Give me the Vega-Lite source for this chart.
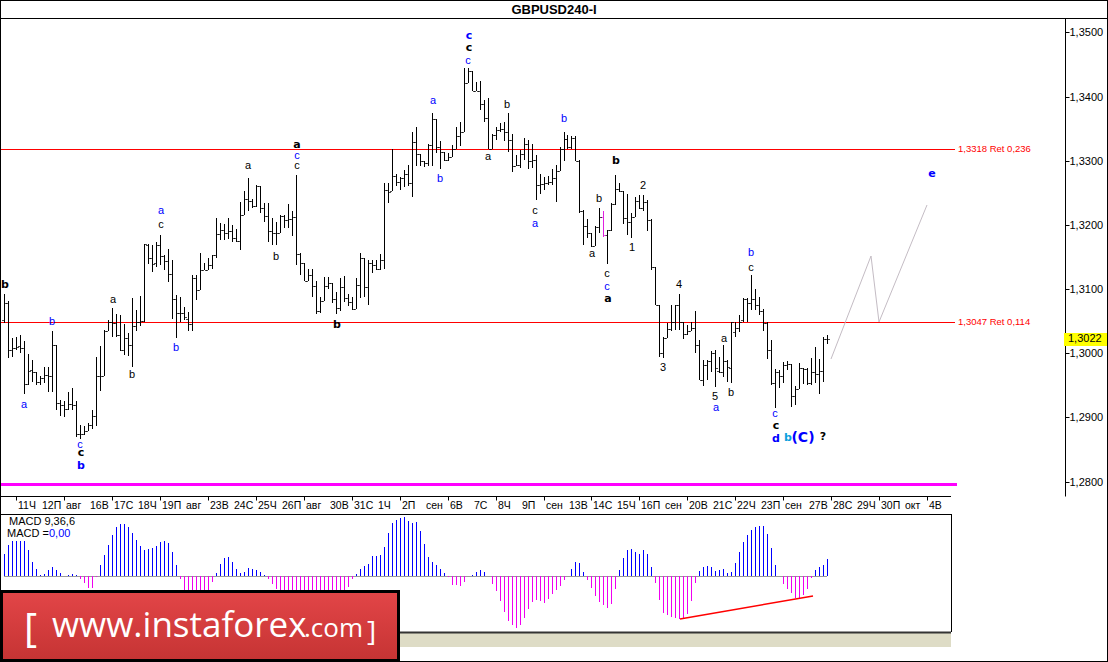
{
"$schema":"https://vega.github.io/schema/vega-lite/v6.json",
"width":1108,"height":662,"autosize":"none","padding":0,"background":"#ffffff",
"config":{"view":{"stroke":"#000000","strokeWidth":2},"font":"Liberation Sans"},
"title":{"text":"GBPUSD240-I","anchor":"middle","frame":"group","offset":-17,"font":"Liberation Sans","fontSize":13,"fontWeight":"bold","color":"#000000"},
"data":{"values":[{"row":0}]},
"datasets":{
"bars":[
{"i":0,"o":1.3052,"h":1.3093,"l":1.3047,"c":1.3079,"m":21.7},{"i":1,"o":1.3079,"h":1.3082,"l":1.2992,"c":1.3005,"m":30.7},{"i":2,"o":1.3005,"h":1.3024,"l":1.2995,"c":1.3008,"m":34.7},{"i":3,"o":1.3009,"h":1.3026,"l":1.3005,"c":1.3010,"m":34.7},{"i":4,"o":1.3011,"h":1.3029,"l":1.3000,"c":1.3009,"m":34.7},{"i":5,"o":1.3009,"h":1.3019,"l":1.2937,"c":1.2952,"m":34.7},{"i":6,"o":1.2952,"h":1.2999,"l":1.2951,"c":1.2973,"m":25.7},{"i":7,"o":1.2974,"h":1.2989,"l":1.2956,"c":1.2971,"m":13.7},{"i":8,"o":1.2971,"h":1.2971,"l":1.2951,"c":1.2955,"m":6.7},{"i":9,"o":1.2956,"h":1.2964,"l":1.2951,"c":1.2961,"m":0.3},
{"i":10,"o":1.2961,"h":1.2978,"l":1.2953,"c":1.2966,"m":1.7},{"i":11,"o":1.2966,"h":1.2979,"l":1.2940,"c":1.2965,"m":5.3},{"i":12,"o":1.2965,"h":1.3035,"l":1.2940,"c":1.3013,"m":8.7},{"i":13,"o":1.3013,"h":1.3013,"l":1.2911,"c":1.2922,"m":5.7},{"i":14,"o":1.2922,"h":1.2928,"l":1.2902,"c":1.2920,"m":2.3},{"i":15,"o":1.2920,"h":1.2926,"l":1.2901,"c":1.2913,"m":0.2},{"i":16,"o":1.2913,"h":1.2940,"l":1.2912,"c":1.2921,"m":0.3},{"i":17,"o":1.2921,"h":1.2946,"l":1.2912,"c":1.2920,"m":1.3},{"i":18,"o":1.2920,"h":1.2926,"l":1.2870,"c":1.2875,"m":0.3},{"i":19,"o":1.2875,"h":1.2888,"l":1.2867,"c":1.2875,"m":-3.7},
{"i":20,"o":1.2875,"h":1.2886,"l":1.2873,"c":1.2879,"m":-7},{"i":21,"o":1.2879,"h":1.2892,"l":1.2879,"c":1.2888,"m":-12.3},{"i":22,"o":1.2888,"h":1.2911,"l":1.2882,"c":1.2903,"m":-12.3},{"i":23,"o":1.2903,"h":1.2995,"l":1.2886,"c":1.2965,"m":-1},{"i":24,"o":1.2965,"h":1.3011,"l":1.2942,"c":1.2965,"m":10.3},{"i":25,"o":1.2965,"h":1.3037,"l":1.2965,"c":1.3035,"m":20.7},{"i":26,"o":1.3035,"h":1.3052,"l":1.3035,"c":1.3049,"m":30.7},{"i":27,"o":1.3049,"h":1.3070,"l":1.3026,"c":1.3047,"m":40.7},{"i":28,"o":1.3047,"h":1.3061,"l":1.3026,"c":1.3028,"m":48.3},{"i":29,"o":1.3028,"h":1.3060,"l":1.3003,"c":1.3005,"m":51.3},
{"i":30,"o":1.3005,"h":1.3046,"l":1.2997,"c":1.3024,"m":51.7},{"i":31,"o":1.3024,"h":1.3031,"l":1.2996,"c":1.3013,"m":48.7},{"i":32,"o":1.3013,"h":1.3086,"l":1.2978,"c":1.3042,"m":42.7},{"i":33,"o":1.3042,"h":1.3067,"l":1.3034,"c":1.3049,"m":35.7},{"i":34,"o":1.3049,"h":1.3089,"l":1.3042,"c":1.3050,"m":30},{"i":35,"o":1.3051,"h":1.3171,"l":1.3049,"c":1.3170,"m":25.7},{"i":36,"o":1.3169,"h":1.3170,"l":1.3139,"c":1.3148,"m":26.3},{"i":37,"o":1.3148,"h":1.3169,"l":1.3127,"c":1.3139,"m":27.7},{"i":38,"o":1.3140,"h":1.3174,"l":1.3135,"c":1.3169,"m":29.7},{"i":39,"o":1.3169,"h":1.3184,"l":1.3138,"c":1.3151,"m":33.7},
{"i":40,"o":1.3151,"h":1.3153,"l":1.3129,"c":1.3144,"m":34.7},{"i":41,"o":1.3144,"h":1.3162,"l":1.3111,"c":1.3124,"m":32.3},{"i":42,"o":1.3124,"h":1.3145,"l":1.3054,"c":1.3084,"m":23.7},{"i":43,"o":1.3084,"h":1.3091,"l":1.3024,"c":1.3062,"m":10.7},{"i":44,"o":1.3062,"h":1.3088,"l":1.3048,"c":1.3063,"m":-3},{"i":45,"o":1.3062,"h":1.3072,"l":1.3052,"c":1.3057,"m":-18},{"i":46,"o":1.3054,"h":1.3065,"l":1.3035,"c":1.3046,"m":-20},{"i":47,"o":1.3046,"h":1.3122,"l":1.3035,"c":1.3117,"m":-22},{"i":48,"o":1.3117,"h":1.3122,"l":1.3083,"c":1.3098,"m":-22},{"i":49,"o":1.3098,"h":1.3157,"l":1.3098,"c":1.3129,"m":-22},
{"i":50,"o":1.3129,"h":1.3140,"l":1.3129,"c":1.3130,"m":-20},{"i":51,"o":1.3130,"h":1.3148,"l":1.3129,"c":1.3138,"m":-18},{"i":52,"o":1.3138,"h":1.3153,"l":1.3132,"c":1.3153,"m":-6},{"i":53,"o":1.3153,"h":1.3210,"l":1.3148,"c":1.3186,"m":2.3},{"i":54,"o":1.3186,"h":1.3203,"l":1.3176,"c":1.3192,"m":11.7},{"i":55,"o":1.3192,"h":1.3201,"l":1.3176,"c":1.3187,"m":17.7},{"i":56,"o":1.3187,"h":1.3210,"l":1.3178,"c":1.3191,"m":18.7},{"i":57,"o":1.3191,"h":1.3200,"l":1.3174,"c":1.3179,"m":13.7},{"i":58,"o":1.3179,"h":1.3193,"l":1.3174,"c":1.3175,"m":6.7},{"i":59,"o":1.3175,"h":1.3235,"l":1.3161,"c":1.3215,"m":2.7},
{"i":60,"o":1.3215,"h":1.3253,"l":1.3215,"c":1.3241,"m":4},{"i":61,"o":1.3241,"h":1.3273,"l":1.3221,"c":1.3238,"m":7.7},{"i":62,"o":1.3238,"h":1.3241,"l":1.3227,"c":1.3229,"m":6.3},{"i":63,"o":1.3229,"h":1.3262,"l":1.3228,"c":1.3261,"m":5.7},{"i":64,"o":1.3261,"h":1.3261,"l":1.3219,"c":1.3226,"m":3.7},{"i":65,"o":1.3226,"h":1.3234,"l":1.3205,"c":1.3214,"m":0.3},{"i":66,"o":1.3214,"h":1.3234,"l":1.3174,"c":1.3191,"m":-3.3},{"i":67,"o":1.3191,"h":1.3210,"l":1.3169,"c":1.3188,"m":-8.3},{"i":68,"o":1.3188,"h":1.3205,"l":1.3169,"c":1.3187,"m":-13.3},{"i":69,"o":1.3187,"h":1.3215,"l":1.3187,"c":1.3214,"m":-18},
{"i":70,"o":1.3214,"h":1.3215,"l":1.3195,"c":1.3207,"m":-20},{"i":71,"o":1.3207,"h":1.3233,"l":1.3195,"c":1.3209,"m":-21},{"i":72,"o":1.3209,"h":1.3221,"l":1.3182,"c":1.3212,"m":-22},{"i":73,"o":1.3212,"h":1.3278,"l":1.3137,"c":1.3155,"m":-22},{"i":74,"o":1.3155,"h":1.3157,"l":1.3122,"c":1.3140,"m":-22},{"i":75,"o":1.3140,"h":1.3140,"l":1.3112,"c":1.3113,"m":-21},{"i":76,"o":1.3113,"h":1.3132,"l":1.3113,"c":1.3122,"m":-21},{"i":77,"o":1.3122,"h":1.3132,"l":1.3088,"c":1.3105,"m":-20},{"i":78,"o":1.3105,"h":1.3112,"l":1.3061,"c":1.3066,"m":-20},{"i":79,"o":1.3066,"h":1.3088,"l":1.3062,"c":1.3081,"m":-20},
{"i":80,"o":1.3081,"h":1.3119,"l":1.3081,"c":1.3105,"m":-19},{"i":81,"o":1.3105,"h":1.3119,"l":1.3100,"c":1.3109,"m":-19},{"i":82,"o":1.3109,"h":1.3110,"l":1.3078,"c":1.3084,"m":-19},{"i":83,"o":1.3084,"h":1.3096,"l":1.3061,"c":1.3071,"m":-18},{"i":84,"o":1.3070,"h":1.3117,"l":1.3066,"c":1.3104,"m":-17},{"i":85,"o":1.3104,"h":1.3120,"l":1.3080,"c":1.3086,"m":-16},{"i":86,"o":1.3086,"h":1.3092,"l":1.3074,"c":1.3080,"m":-11.3},{"i":87,"o":1.3080,"h":1.3088,"l":1.3067,"c":1.3069,"m":-3.7},{"i":88,"o":1.3069,"h":1.3117,"l":1.3069,"c":1.3106,"m":1.3},{"i":89,"o":1.3106,"h":1.3157,"l":1.3086,"c":1.3148,"m":6.7},
{"i":90,"o":1.3148,"h":1.3148,"l":1.3087,"c":1.3103,"m":9.7},{"i":91,"o":1.3103,"h":1.3145,"l":1.3075,"c":1.3141,"m":12},{"i":92,"o":1.3141,"h":1.3145,"l":1.3125,"c":1.3137,"m":19.7},{"i":93,"o":1.3137,"h":1.3146,"l":1.3130,"c":1.3131,"m":20},{"i":94,"o":1.3131,"h":1.3154,"l":1.3130,"c":1.3146,"m":20.7},{"i":95,"o":1.3146,"h":1.3266,"l":1.3131,"c":1.3254,"m":29},{"i":96,"o":1.3254,"h":1.3266,"l":1.3234,"c":1.3252,"m":42.3},{"i":97,"o":1.3253,"h":1.3318,"l":1.3253,"c":1.3276,"m":52.3},{"i":98,"o":1.3276,"h":1.3279,"l":1.3261,"c":1.3267,"m":55.7},{"i":99,"o":1.3267,"h":1.3274,"l":1.3254,"c":1.3273,"m":57.7},
{"i":100,"o":1.3273,"h":1.3286,"l":1.3259,"c":1.3279,"m":58.7},{"i":101,"o":1.3279,"h":1.3294,"l":1.3261,"c":1.3266,"m":55},{"i":102,"o":1.3266,"h":1.3344,"l":1.3244,"c":1.3329,"m":52.7},{"i":103,"o":1.3329,"h":1.3352,"l":1.3291,"c":1.3311,"m":53.7},{"i":104,"o":1.3311,"h":1.3311,"l":1.3291,"c":1.3299,"m":44.7},{"i":105,"o":1.3299,"h":1.3300,"l":1.3290,"c":1.3297,"m":31.7},{"i":106,"o":1.3297,"h":1.3326,"l":1.3291,"c":1.3325,"m":18.7},{"i":107,"o":1.3325,"h":1.3375,"l":1.3292,"c":1.3365,"m":14},{"i":108,"o":1.3365,"h":1.3365,"l":1.3312,"c":1.3322,"m":10.3},{"i":109,"o":1.3322,"h":1.3330,"l":1.3287,"c":1.3313,"m":6.7},
{"i":110,"o":1.3313,"h":1.3313,"l":1.3299,"c":1.3301,"m":3},{"i":111,"o":1.3301,"h":1.3312,"l":1.3299,"c":1.3305,"m":-1.7},{"i":112,"o":1.3305,"h":1.3325,"l":1.3305,"c":1.3319,"m":-9.3},{"i":113,"o":1.3319,"h":1.3352,"l":1.3319,"c":1.3339,"m":-9.7},{"i":114,"o":1.3339,"h":1.3361,"l":1.3323,"c":1.3345,"m":-10.3},{"i":115,"o":1.3345,"h":1.3444,"l":1.3345,"c":1.3421,"m":-6.7},{"i":116,"o":1.3421,"h":1.3444,"l":1.3421,"c":1.3439,"m":0.1},{"i":117,"o":1.3439,"h":1.3439,"l":1.3408,"c":1.3409,"m":0.3},{"i":118,"o":1.3409,"h":1.3423,"l":1.3408,"c":1.3409,"m":3.7},{"i":119,"o":1.3409,"h":1.3424,"l":1.3379,"c":1.3388,"m":5.7},
{"i":120,"o":1.3388,"h":1.3395,"l":1.3361,"c":1.3366,"m":3.7},{"i":121,"o":1.3366,"h":1.3397,"l":1.3319,"c":1.3319,"m":0},{"i":122,"o":1.3319,"h":1.3341,"l":1.3319,"c":1.3340,"m":-8.3},{"i":123,"o":1.3340,"h":1.3353,"l":1.3332,"c":1.3348,"m":-15},{"i":124,"o":1.3348,"h":1.3359,"l":1.3344,"c":1.3349,"m":-25.3},{"i":125,"o":1.3349,"h":1.3361,"l":1.3330,"c":1.3345,"m":-36.3},{"i":126,"o":1.3345,"h":1.3375,"l":1.3314,"c":1.3332,"m":-45.3},{"i":127,"o":1.3332,"h":1.3341,"l":1.3283,"c":1.3292,"m":-49.3},{"i":128,"o":1.3292,"h":1.3309,"l":1.3291,"c":1.3294,"m":-52},{"i":129,"o":1.3294,"h":1.3317,"l":1.3288,"c":1.3310,"m":-49.3},
{"i":130,"o":1.3310,"h":1.3335,"l":1.3301,"c":1.3326,"m":-42.3},{"i":131,"o":1.3326,"h":1.3333,"l":1.3287,"c":1.3299,"m":-33},{"i":132,"o":1.3299,"h":1.3326,"l":1.3288,"c":1.3301,"m":-26},{"i":133,"o":1.3301,"h":1.3309,"l":1.3239,"c":1.3262,"m":-24.3},{"i":134,"o":1.3262,"h":1.3279,"l":1.3248,"c":1.3264,"m":-25.3},{"i":135,"o":1.3264,"h":1.3275,"l":1.3254,"c":1.3266,"m":-27},{"i":136,"o":1.3266,"h":1.3276,"l":1.3262,"c":1.3267,"m":-23.3},{"i":137,"o":1.3267,"h":1.3287,"l":1.3262,"c":1.3273,"m":-18},{"i":138,"o":1.3273,"h":1.3293,"l":1.3235,"c":1.3284,"m":-14.3},{"i":139,"o":1.3284,"h":1.3322,"l":1.3284,"c":1.3319,"m":-10},
{"i":140,"o":1.3319,"h":1.3345,"l":1.3299,"c":1.3334,"m":-4.3},{"i":141,"o":1.3334,"h":1.3340,"l":1.3318,"c":1.3322,"m":-0.3},{"i":142,"o":1.3322,"h":1.3338,"l":1.3318,"c":1.3336,"m":6.3},{"i":143,"o":1.3336,"h":1.3338,"l":1.3299,"c":1.3299,"m":13.7},{"i":144,"o":1.3299,"h":1.3301,"l":1.3219,"c":1.3222,"m":12.7},{"i":145,"o":1.3222,"h":1.3223,"l":1.3168,"c":1.3198,"m":3.7},{"i":146,"o":1.3198,"h":1.3209,"l":1.3179,"c":1.3187,"m":-4.3},{"i":147,"o":1.3187,"h":1.3187,"l":1.3166,"c":1.3167,"m":-12.3},{"i":148,"o":1.3167,"h":1.3198,"l":1.3167,"c":1.3197,"m":-20.3},{"i":149,"o":1.3197,"h":1.3227,"l":1.3187,"c":1.3213,"m":-26},
{"i":150,"o":1.3213,"h":1.3222,"l":1.3181,"c":1.3185,"m":-29.3},{"i":151,"o":1.3185,"h":1.3192,"l":1.3139,"c":1.3192,"m":-32},{"i":152,"o":1.3192,"h":1.3234,"l":1.3191,"c":1.3232,"m":-28.3},{"i":153,"o":1.3232,"h":1.3278,"l":1.3231,"c":1.3256,"m":-13.3},{"i":154,"o":1.3256,"h":1.3265,"l":1.3252,"c":1.3253,"m":5.7},{"i":155,"o":1.3253,"h":1.3253,"l":1.3201,"c":1.3210,"m":17.7},{"i":156,"o":1.3210,"h":1.3248,"l":1.3185,"c":1.3205,"m":25.7},{"i":157,"o":1.3205,"h":1.3219,"l":1.3180,"c":1.3212,"m":26.7},{"i":158,"o":1.3212,"h":1.3244,"l":1.3212,"c":1.3237,"m":23.7},{"i":159,"o":1.3237,"h":1.3247,"l":1.3224,"c":1.3226,"m":21.7},
{"i":160,"o":1.3226,"h":1.3247,"l":1.3221,"c":1.3235,"m":25.7},{"i":161,"o":1.3235,"h":1.3239,"l":1.3191,"c":1.3208,"m":21.7},{"i":162,"o":1.3208,"h":1.3209,"l":1.3130,"c":1.3134,"m":8.7},{"i":163,"o":1.3134,"h":1.3135,"l":1.3075,"c":1.3075,"m":-7.3},{"i":164,"o":1.3075,"h":1.3075,"l":1.2994,"c":1.3000,"m":-24.3},{"i":165,"o":1.3000,"h":1.3025,"l":1.2992,"c":1.3024,"m":-37.3},{"i":166,"o":1.3024,"h":1.3047,"l":1.3024,"c":1.3038,"m":-39.3},{"i":167,"o":1.3038,"h":1.3075,"l":1.3034,"c":1.3048,"m":-41.3},{"i":168,"o":1.3048,"h":1.3075,"l":1.3036,"c":1.3075,"m":-42},{"i":169,"o":1.3075,"h":1.3092,"l":1.3037,"c":1.3048,"m":-43},
{"i":170,"o":1.3048,"h":1.3048,"l":1.3022,"c":1.3030,"m":-42.7},{"i":171,"o":1.3030,"h":1.3044,"l":1.3029,"c":1.3035,"m":-38.3},{"i":172,"o":1.3035,"h":1.3048,"l":1.3034,"c":1.3040,"m":-25.3},{"i":173,"o":1.3040,"h":1.3066,"l":1.3000,"c":1.3013,"m":-7.3},{"i":174,"o":1.3013,"h":1.3021,"l":1.2958,"c":1.2959,"m":4.7},{"i":175,"o":1.2959,"h":1.2990,"l":1.2949,"c":1.2981,"m":8.7},{"i":176,"o":1.2981,"h":1.2989,"l":1.2959,"c":1.2988,"m":9.7},{"i":177,"o":1.2988,"h":1.3003,"l":1.2971,"c":1.3000,"m":8.7},{"i":178,"o":1.3000,"h":1.3005,"l":1.2947,"c":1.2977,"m":4.7},{"i":179,"o":1.2973,"h":1.2994,"l":1.2969,"c":1.2971,"m":5.7},
{"i":180,"o":1.2971,"h":1.3013,"l":1.2963,"c":1.2988,"m":6.7},{"i":181,"o":1.2988,"h":1.2990,"l":1.2956,"c":1.2979,"m":2.7},{"i":182,"o":1.2977,"h":1.3048,"l":1.2954,"c":1.3048,"m":3.7},{"i":183,"o":1.3033,"h":1.3048,"l":1.3026,"c":1.3040,"m":12.7},{"i":184,"o":1.3040,"h":1.3060,"l":1.3033,"c":1.3048,"m":23.7},{"i":185,"o":1.3052,"h":1.3086,"l":1.3049,"c":1.3084,"m":33.7},{"i":186,"o":1.3084,"h":1.3086,"l":1.3049,"c":1.3078,"m":40.7},{"i":187,"o":1.3078,"h":1.3122,"l":1.3068,"c":1.3085,"m":45.7},{"i":188,"o":1.3085,"h":1.3100,"l":1.3068,"c":1.3076,"m":48.7},{"i":189,"o":1.3076,"h":1.3088,"l":1.3060,"c":1.3066,"m":49.7},
{"i":190,"o":1.3066,"h":1.3069,"l":1.3034,"c":1.3047,"m":49.7},{"i":191,"o":1.3047,"h":1.3049,"l":1.2991,"c":1.3005,"m":41.7},{"i":192,"o":1.3005,"h":1.3020,"l":1.2951,"c":1.2953,"m":27.7},{"i":193,"o":1.2953,"h":1.2975,"l":1.2915,"c":1.2971,"m":10.7},{"i":194,"o":1.2971,"h":1.2974,"l":1.2946,"c":1.2965,"m":-0.7},{"i":195,"o":1.2965,"h":1.2987,"l":1.2954,"c":1.2982,"m":-8.3},{"i":196,"o":1.2982,"h":1.2988,"l":1.2974,"c":1.2984,"m":-13.3},{"i":197,"o":1.2984,"h":1.2984,"l":1.2917,"c":1.2934,"m":-17.3},{"i":198,"o":1.2934,"h":1.2949,"l":1.2920,"c":1.2944,"m":-22.3},{"i":199,"o":1.2944,"h":1.2985,"l":1.2944,"c":1.2977,"m":-23},
{"i":200,"o":1.2977,"h":1.2977,"l":1.2952,"c":1.2975,"m":-19.7},{"i":201,"o":1.2975,"h":1.2977,"l":1.2951,"c":1.2953,"m":-13.3},{"i":202,"o":1.2953,"h":1.2992,"l":1.2951,"c":1.2971,"m":-2},{"i":203,"o":1.2971,"h":1.3010,"l":1.2953,"c":1.2968,"m":5.7},{"i":204,"o":1.2968,"h":1.2991,"l":1.2937,"c":1.2973,"m":8.7},{"i":205,"o":1.2973,"h":1.3026,"l":1.2956,"c":1.3022,"m":10.7},{"i":206,"o":1.3022,"h":1.3028,"l":1.3014,"c":1.3022,"m":16.7}
],
"waves":[
{"t":"b","i":0.2,"p":1.3107,"k":"black","w":"bold"},{"t":"b","i":12,"p":1.3049,"k":"blue","w":"normal"},{"t":"a","i":27.2,"p":1.3083,"k":"black","w":"normal"},{"t":"b","i":32.1,"p":1.2966,"k":"black","w":"normal"},{"t":"b","i":43.1,"p":1.3009,"k":"blue","w":"normal"},{"t":"a","i":5,"p":1.2920,"k":"blue","w":"normal"},{"t":"c","i":19,"p":1.2857,"k":"blue","w":"normal"},{"t":"c","i":19.2,"p":1.2844,"k":"black","w":"bold"},{"t":"b","i":19.2,"p":1.2824,"k":"blue","w":"bold"},{"t":"b","i":83.2,"p":1.3044,"k":"black","w":"bold"},
{"t":"a","i":39.2,"p":1.3221,"k":"blue","w":"normal"},{"t":"c","i":39.2,"p":1.3200,"k":"black","w":"normal"},{"t":"a","i":61.1,"p":1.3291,"k":"black","w":"normal"},{"t":"b","i":68.1,"p":1.3150,"k":"black","w":"normal"},{"t":"a","i":73.2,"p":1.3325,"k":"black","w":"bold"},{"t":"c","i":73.2,"p":1.3308,"k":"blue","w":"normal"},{"t":"c","i":73.2,"p":1.3291,"k":"black","w":"normal"},
{"t":"c","i":116.3,"p":1.3495,"k":"blue","w":"bold"},{"t":"c","i":116.3,"p":1.3476,"k":"black","w":"bold"},{"t":"c","i":116.2,"p":1.3456,"k":"blue","w":"normal"},{"t":"a","i":107.3,"p":1.3393,"k":"blue","w":"normal"},{"t":"b","i":109.2,"p":1.3271,"k":"blue","w":"normal"},{"t":"b","i":125.9,"p":1.3387,"k":"black","w":"normal"},{"t":"a","i":121,"p":1.3305,"k":"black","w":"normal"},{"t":"b","i":140,"p":1.3365,"k":"blue","w":"normal"},{"t":"c","i":132.9,"p":1.3222,"k":"black","w":"normal"},{"t":"a","i":132.9,"p":1.3202,"k":"blue","w":"normal"},
{"t":"b","i":149,"p":1.3240,"k":"black","w":"normal"},{"t":"a","i":147.1,"p":1.3155,"k":"black","w":"normal"},{"t":"b","i":153.1,"p":1.3300,"k":"black","w":"bold"},{"t":"2","i":160,"p":1.3260,"k":"black","w":"normal"},{"t":"1","i":157.1,"p":1.3164,"k":"black","w":"normal"},{"t":"c","i":151,"p":1.3124,"k":"black","w":"normal"},{"t":"c","i":151,"p":1.3104,"k":"blue","w":"normal"},{"t":"a","i":151.1,"p":1.3084,"k":"black","w":"bold"},
{"t":"4","i":169,"p":1.3106,"k":"black","w":"normal"},{"t":"3","i":165,"p":1.2977,"k":"black","w":"normal"},{"t":"a","i":180.1,"p":1.3023,"k":"black","w":"normal"},{"t":"5","i":178,"p":1.2932,"k":"black","w":"normal"},{"t":"a","i":178.1,"p":1.2915,"k":"blue","w":"normal"},{"t":"b","i":182,"p":1.2938,"k":"black","w":"normal"},{"t":"b","i":187,"p":1.3156,"k":"blue","w":"normal"},{"t":"c","i":187,"p":1.3133,"k":"black","w":"normal"},{"t":"c","i":193,"p":1.2905,"k":"blue","w":"normal"},{"t":"c","i":193.2,"p":1.2887,"k":"black","w":"bold"},{"t":"d","i":193.2,"p":1.2867,"k":"blue","w":"bold"},{"t":"b","i":196.2,"p":1.2868,"k":"sky","w":"bold"},{"t":"?","i":205,"p":1.2869,"k":"black","w":"bold"},{"t":"e","i":232.2,"p":1.3280,"k":"blue","w":"bold"}
],
"levels":[{"p":1.3318,"t":"1,3318 Ret 0,236"},{"p":1.30485,"t":"1,3047 Ret 0,114"}],
"forecast":[{"n":1,"i":207,"p":1.2991},{"n":2,"i":217.05,"p":1.3152},{"n":3,"i":219.05,"p":1.3048},{"n":4,"i":231.05,"p":1.3231}],
"macdline":[{"i":169.2,"m":-43.6},{"i":202.4,"m":-20.6}],
"xlabels":[{"i":3,"t":"11Ч"},{"i":9,"t":"12П"},{"i":15,"t":"авг"},{"i":21,"t":"16В"},{"i":27,"t":"17С"},{"i":33,"t":"18Ч"},{"i":39,"t":"19П"},{"i":45,"t":"авг"},{"i":51,"t":"23В"},{"i":57,"t":"24С"},{"i":63,"t":"25Ч"},{"i":69,"t":"26П"},{"i":75,"t":"авг"},{"i":81,"t":"30В"},{"i":87,"t":"31С"},{"i":93,"t":"1Ч"},{"i":99,"t":"2П"},{"i":105,"t":"сен"},{"i":111,"t":"6В"},{"i":117,"t":"7С"},{"i":123,"t":"8Ч"},{"i":129,"t":"9П"},{"i":135,"t":"сен"},{"i":141,"t":"13В"},{"i":147,"t":"14С"},{"i":153,"t":"15Ч"},{"i":159,"t":"16П"},{"i":165,"t":"сен"},{"i":171,"t":"20В"},{"i":177,"t":"21С"},{"i":183,"t":"22Ч"},{"i":189,"t":"23П"},{"i":195,"t":"сен"},{"i":201,"t":"27В"},{"i":207,"t":"28С"},{"i":213,"t":"29Ч"},{"i":219,"t":"30П"},{"i":225,"t":"окт"},{"i":231,"t":"4В"}],
"logotext":[{"t":"[","i":5,"y":52,"s":40},{"t":"www.instaforex","i":12,"y":46.7,"s":35},{"t":".com","i":75,"y":46.7,"s":26},{"t":"]","i":90.8,"y":51,"s":28}]
},
"layer":[
{"layer":[
{"mark":{"type":"rule","stroke":"#000000","strokeWidth":1,"yOffset":0.5},"encoding":{"x":{"datum":-1.05,"type":"quantitative"},"x2":{"datum":276.2},"y":{"datum":1.35223,"type":"quantitative"}}},
{"mark":{"type":"rule","stroke":"#000000","strokeWidth":1,"yOffset":0.5},"encoding":{"x":{"datum":-1.05,"type":"quantitative"},"x2":{"datum":237},"y":{"datum":1.27777,"type":"quantitative"}}},
{"mark":{"type":"rule","stroke":"#ff00ff","strokeWidth":3,"yOffset":0.5},"encoding":{"x":{"datum":-0.8,"type":"quantitative"},"x2":{"datum":238.5},"y":{"datum":1.27965,"type":"quantitative"}}},
{"data":{"name":"levels"},"mark":{"type":"rule","stroke":"#ff0000","strokeWidth":1,"yOffset":0.5},"encoding":{"x":{"datum":-0.8,"type":"quantitative"},"x2":{"datum":238},"y":{"field":"p","type":"quantitative"}}},
{"data":{"name":"levels"},"mark":{"type":"text","color":"#ff0000","align":"left","baseline":"middle","fontSize":9.5,"font":"Liberation Sans"},"encoding":{"x":{"datum":238.8,"type":"quantitative"},"y":{"field":"p","type":"quantitative"},"text":{"field":"t"}}},
{"data":{"name":"forecast"},"mark":{"type":"line","color":"#c4bcc4","strokeWidth":1},"encoding":{"x":{"field":"i","type":"quantitative"},"y":{"field":"p","type":"quantitative"},"order":{"field":"n"}}},
{"data":{"name":"xlabels"},"mark":{"type":"text","align":"left","baseline":"middle","dx":2,"fontSize":10.5,"font":"Liberation Sans","color":"#000000"},"encoding":{"x":{"field":"i","type":"quantitative"},"y":{"datum":1.27621,"type":"quantitative"},"text":{"field":"t"}}},
{"data":{"name":"bars"},"mark":{"type":"rule","strokeWidth":1,"xOffset":0.5},"encoding":{
"x":{"field":"i","type":"quantitative","title":null,"scale":{"domain":[-1.0513,276.295],"round":true,"nice":false,"zero":false},"axis":{"orient":"bottom","offset":-166,"domain":false,"grid":false,"tickSize":4,"tickColor":"#000000","labels":false,"values":[3,9,15,21,27,33,39,45,51,57,63,69,75,81,87,93,99,105,111,117,123,129,135,141,147,153,159,165,171,177,183,189,195,201,207,213,219,225,231]}},
"y":{"field":"l","type":"quantitative","title":null,"scale":{"domain":[1.27777,1.35223],"range":[496,18],"round":true,"nice":false,"zero":false},"axis":{"orient":"right","offset":-43,"grid":false,"domainColor":"#000000","tickColor":"#000000","tickSize":4,"labelPadding":0,"values":[1.28,1.29,1.30,1.31,1.32,1.33,1.34,1.35],"labelExpr":"replace(format(datum.value,'.4f'),'.',',')","labelFontSize":11,"labelFont":"Liberation Sans","labelColor":"#000000","labelOverlap":false,"labelFlush":false}},
"y2":{"field":"h"},
"color":{"condition":{"test":"datum.i==150","value":"#e020e0"},"value":"#000000"}}},
{"data":{"name":"bars"},"mark":{"type":"tick","orient":"horizontal","size":2,"thickness":1,"xOffset":-1,"yOffset":0.5},"encoding":{"x":{"field":"i","type":"quantitative"},"y":{"field":"o","type":"quantitative"},"color":{"condition":{"test":"datum.i==150","value":"#e020e0"},"value":"#000000"}}},
{"data":{"name":"bars"},"mark":{"type":"tick","orient":"horizontal","size":2,"thickness":1,"xOffset":2,"yOffset":0.5},"encoding":{"x":{"field":"i","type":"quantitative"},"y":{"field":"c","type":"quantitative"},"color":{"condition":{"test":"datum.i==150","value":"#e020e0"},"value":"#000000"}}},
{"data":{"name":"waves"},"transform":[{"filter":"datum.w=='normal'"}],"mark":{"type":"text","align":"center","baseline":"middle","fontSize":11,"font":"Liberation Sans"},"encoding":{"x":{"field":"i","type":"quantitative"},"y":{"field":"p","type":"quantitative"},"text":{"field":"t"},"color":{"field":"k","scale":{"domain":["black","blue","sky"],"range":["#000000","#0000ff","#0a9fdc"]},"legend":null}}},
{"data":{"name":"waves"},"transform":[{"filter":"datum.w=='bold'"}],"mark":{"type":"text","align":"center","baseline":"middle","fontSize":11,"font":"DejaVu Sans","fontWeight":"bold"},"encoding":{"x":{"field":"i","type":"quantitative"},"y":{"field":"p","type":"quantitative"},"text":{"field":"t"},"color":{"field":"k","scale":{"domain":["black","blue","sky"],"range":["#000000","#0000ff","#0a9fdc"]},"legend":null}}},
{"mark":{"type":"text","text":"(C)","align":"center","baseline":"middle","fontSize":14,"font":"DejaVu Sans","fontWeight":"bold","color":"#0000ff"},"encoding":{"x":{"datum":199.9,"type":"quantitative"},"y":{"datum":1.2868,"type":"quantitative"}}},
{"mark":{"type":"rect","color":"#ffff00"},"encoding":{"x":{"datum":265.3,"type":"quantitative"},"x2":{"datum":276.05},"y":{"datum":1.30316,"type":"quantitative"},"y2":{"datum":1.30114}}},
{"mark":{"type":"text","text":"1,3022","align":"left","baseline":"middle","fontSize":11,"font":"Liberation Sans","color":"#000000"},"encoding":{"x":{"datum":266.3,"type":"quantitative"},"y":{"datum":1.3022,"type":"quantitative"}}}
]},
{"layer":[
{"mark":{"type":"rect","color":"#dedcc6"},"encoding":{"x":{"datum":-1.05,"type":"quantitative"},"x2":{"datum":237},"y":{"datum":-57.3,"type":"quantitative","scale":{"domain":[-56.3,61.7],"range":[632,514],"nice":false,"zero":false,"round":true},"axis":null},"y2":{"datum":-71.3}}},
{"mark":{"type":"rule","stroke":"#000000","strokeWidth":1,"yOffset":0.5},"encoding":{"x":{"datum":-1.05,"type":"quantitative"},"x2":{"datum":237},"y":{"datum":61.7,"type":"quantitative"}}},
{"mark":{"type":"rule","stroke":"#333333","strokeWidth":2,"yOffset":0.5},"encoding":{"x":{"datum":-1.05,"type":"quantitative"},"x2":{"datum":237},"y":{"datum":-56.3,"type":"quantitative"}}},
{"mark":{"type":"rule","stroke":"#000000","strokeWidth":1,"xOffset":0.5},"encoding":{"x":{"datum":237,"type":"quantitative"},"y":{"datum":61.7,"type":"quantitative"},"y2":{"datum":-56.3}}},
{"mark":{"type":"rule","stroke":"#999999","strokeWidth":1,"yOffset":0.5},"encoding":{"x":{"datum":0,"type":"quantitative"},"x2":{"datum":206},"y":{"datum":0,"type":"quantitative"}}},
{"data":{"name":"bars"},"mark":{"type":"rule","strokeWidth":1,"xOffset":0.5},"encoding":{"x":{"field":"i","type":"quantitative"},"y":{"field":"m","type":"quantitative"},"y2":{"datum":0},"color":{"condition":{"test":"datum.m>=0","value":"#0000ff"},"value":"#f000f0"}}},
{"data":{"name":"macdline"},"mark":{"type":"line","color":"#ff0000","strokeWidth":1.5},"encoding":{"x":{"field":"i","type":"quantitative"},"y":{"field":"m","type":"quantitative"}}},
{"mark":{"type":"text","text":"MACD 9,36,6","align":"left","baseline":"middle","fontSize":11,"font":"Liberation Sans","color":"#000000"},"encoding":{"x":{"datum":1.2,"type":"quantitative"},"y":{"datum":53.7,"type":"quantitative"}}},
{"mark":{"type":"text","text":"MACD =","align":"left","baseline":"middle","fontSize":11,"font":"Liberation Sans","color":"#000000"},"encoding":{"x":{"datum":0.7,"type":"quantitative"},"y":{"datum":41.7,"type":"quantitative"}}},
{"mark":{"type":"text","text":"0,00","align":"left","baseline":"middle","fontSize":11,"font":"Liberation Sans","color":"#0000ff"},"encoding":{"x":{"datum":11.2,"type":"quantitative"},"y":{"datum":41.7,"type":"quantitative"}}}
]},
{"layer":[
{"mark":{"type":"rect","color":"#000000"},"encoding":{"x":{"datum":-1.05,"type":"quantitative"},"x2":{"datum":99.07},"y":{"datum":0,"type":"quantitative","scale":{"domain":[0,72],"range":[590,662],"nice":false,"zero":false},"axis":null},"y2":{"datum":72}}},
{"mark":{"type":"rect","color":{"x1":0,"y1":0,"x2":0,"y2":1,"gradient":"linear","stops":[{"offset":0,"color":"#e24547"},{"offset":1,"color":"#c63434"}]}},"encoding":{"x":{"datum":-0.3,"type":"quantitative"},"x2":{"datum":98.3},"y":{"datum":3,"type":"quantitative"},"y2":{"datum":69}}},
{"data":{"name":"logotext"},"mark":{"type":"text","align":"left","baseline":"alphabetic","font":"Open Sans","color":"#ffffff"},"encoding":{"x":{"field":"i","type":"quantitative"},"y":{"field":"y","type":"quantitative"},"text":{"field":"t"},"size":{"field":"s","type":"quantitative","scale":null}}}
]}
],
"resolve":{"scale":{"y":"independent"}}
}
